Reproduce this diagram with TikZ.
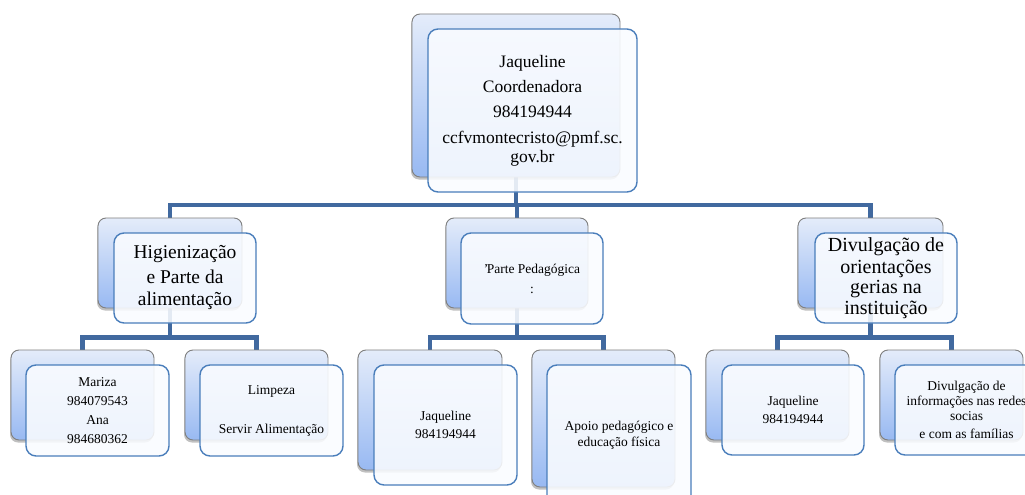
\documentclass[tikz,border=0pt]{standalone}
\usepackage{fontspec}
\setmainfont{Liberation Serif}
\usetikzlibrary{shadows}
\pgfdeclarelayer{bg}
\pgfsetlayers{bg,main}
\definecolor{conncol}{HTML}{41699F}
\definecolor{frontborder}{HTML}{4A7EBB}
\definecolor{backtop}{HTML}{E4ECFA}
\definecolor{backbot}{HTML}{98B9F2}
\definecolor{backborder}{HTML}{7F7F7F}
\definecolor{frontfill}{HTML}{FAFCFF}
\tikzset{
  backbox/.style={draw=backborder, line width=0.9pt, rounded corners=8pt,
    top color=backtop, bottom color=backbot, inner sep=0pt,
    drop shadow={shadow xshift=-1pt, shadow yshift=-2.5pt, opacity=0.35, fill=black!70}},
  frontbox/.style={draw=frontborder, line width=1.4pt, rounded corners=10pt,
    fill=frontfill, fill opacity=0.88, text opacity=1, inner sep=0pt, align=center},
  conn/.style={draw=conncol, line width=4.5pt},
  fs/.style 2 args={font=\fontsize{#1}{#2}\selectfont},
}
\begin{document}
\begin{tikzpicture}[x=1pt,y=-1pt]
\useasboundingbox (0,0) rectangle (1025,495);
% top
\node[backbox, minimum width=208pt, minimum height=163pt] (Tb) at (516,95.5) {};
\node[frontbox, fs={17.5}{19}, minimum width=209pt, minimum height=163pt] (Tf) at (532.5,110.5)
  {Jaqueline\\[6pt] Coordenadora\\[6pt] 984194944\\[7pt] ccfvmontecristo@pmf.sc.\\ gov.br};
% level 2
\node[backbox, minimum width=144pt, minimum height=90pt] (Lb) at (170,263) {};
\node[frontbox, fs={19.5}{22}, minimum width=142pt, minimum height=90pt] (Lf) at (185,278)
  {Higienização\\[3pt] e Parte da\\ alimentação};
\node[backbox, minimum width=142pt, minimum height=90pt] (Mb) at (517,263) {};
\node[frontbox, fs={13.5}{16}, minimum width=142pt, minimum height=91pt] (Mf) at (532,278.5)
  {'\kern-1.5pt Parte Pedagógica\\[4pt] :};
\node[backbox, minimum width=145pt, minimum height=90pt] (Rb) at (870.5,263) {};
\node[frontbox, fs={20}{20.5}, minimum width=142pt, minimum height=90pt] (Rf) at (886,278)
  {Divulgação de\\[1pt] orientações\\ gerias na\\ instituição};
% level 3
\node[backbox, minimum width=143pt, minimum height=90pt] (A1b) at (82.5,395) {};
\node[frontbox, fs={13.5}{18}, minimum width=143pt, minimum height=91pt] (A1f) at (97.5,410.5)
  {Mariza\\[1pt] 984079543\\[1pt] Ana\\[1pt] 984680362};
\node[backbox, minimum width=143pt, minimum height=90pt] (A2b) at (256.5,395) {};
\node[frontbox, fs={13.5}{18}, minimum width=143pt, minimum height=91pt] (A2f) at (271.5,410.5)
  {Limpeza\\[21pt] Servir Alimentação};
\node[backbox, minimum width=144pt, minimum height=120pt] (M1b) at (430,410) {};
\node[frontbox, fs={13.5}{18}, minimum width=143pt, minimum height=120pt] (M1f) at (445.5,425)
  {Jaqueline\\ 984194944};
\node[backbox, minimum width=143pt, minimum height=137pt] (M2b) at (603.5,418.5) {};
\node[frontbox, fs={13.5}{16}, minimum width=144pt, minimum height=140pt] (M2f) at (619,435)
  {Apoio pedagógico e\\ educação física};
\node[backbox, minimum width=143pt, minimum height=90pt] (R1b) at (777.5,395) {};
\node[frontbox, fs={13.5}{18}, minimum width=142pt, minimum height=90pt] (R1f) at (793,410)
  {Jaqueline\\ 984194944};
\node[backbox, minimum width=143pt, minimum height=90pt] (R2b) at (951.5,395) {};
\node[frontbox, fs={13.5}{15}, minimum width=143pt, minimum height=90pt] (R2f) at (966.5,410)
  {Divulgação de\\ informações nas redes\\ socias\\[3pt] e com as famílias};
% connectors
\coordinate (bar1) at (0,205);
\coordinate (bar2) at (0,337.5);
\begin{pgfonlayer}{bg}
  \fill[white] (0,0) rectangle (1025,495);
  \foreach \c in {Lb,Mb,Rb}
    \draw[conn] (Tb.center) -- (Tb.center |- bar1) -| (\c.north);
  \foreach \p/\c in {Lb/A1b,Lb/A2b,Mb/M1b,Mb/M2b,Rb/R1b,Rb/R2b}
    \draw[conn] (\p.center) -- (\p.center |- bar2) -| (\c.north);
\end{pgfonlayer}
\end{tikzpicture}
\end{document}
